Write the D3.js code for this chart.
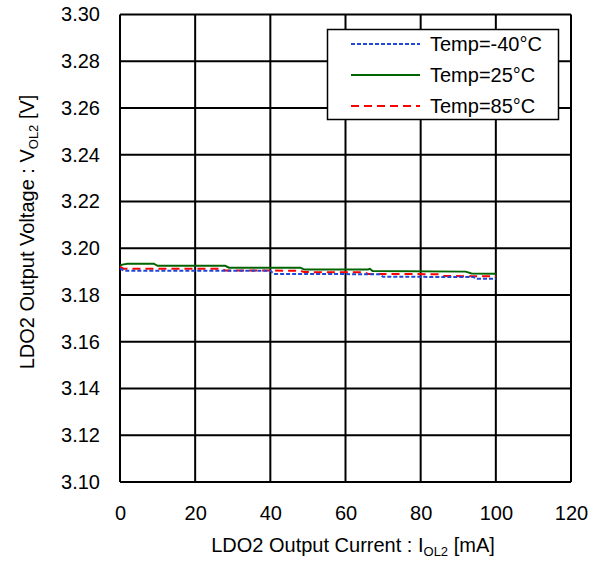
<!DOCTYPE html>
<html><head><meta charset="utf-8">
<script src="https://cdn.jsdelivr.net/npm/d3@7"></script>
<style>body{margin:0;background:#fff}svg{display:block}text{font-family:"Liberation Sans",Arial,sans-serif;fill:#000}</style>
</head><body><svg id="c" width="608" height="566"></svg>
<script>
const xTicks = [0,20,40,60,80,100,120];
const yTicks = [3.10,3.12,3.14,3.16,3.18,3.20,3.22,3.24,3.26,3.28,3.30];
const seriesNames = ["Temp=-40°C","Temp=25°C","Temp=85°C"];
const curM40 = [0,1,40,41,69,70,94,95,100];
const vM40   = [3.1914,3.1904,3.1904,3.1890,3.1889,3.1878,3.1877,3.1870,3.1870];
const cur25  = [0,1,2,9,10,28,29,48,49,66,66.5,67.2,92,93.5,100];
const v25    = [3.1927,3.1931,3.1934,3.1934,3.1925,3.1925,3.1917,3.1917,3.1909,3.1909,3.1912,3.1903,3.1900,3.1892,3.1891];
const cur85  = [0,1,27,28,48,49,65,66,85,86,100];
const v85    = [3.1921,3.1912,3.1912,3.1905,3.1904,3.1898,3.1897,3.1890,3.1889,3.1881,3.1880];

const svg = d3.select("#c");
const L=120,R=571,T=14.5,B=482;
const FS=20, SUB=13;
const x = d3.scaleLinear().domain([0,120]).range([L,R]);
const y = d3.scaleLinear().domain([3.10,3.30]).range([B,T]);

// grid
svg.append("g").selectAll("line").data(xTicks).join("line")
  .attr("x1",d=>x(d)).attr("x2",d=>x(d)).attr("y1",T).attr("y2",B)
  .attr("stroke","#000").attr("stroke-width",2);
svg.append("g").selectAll("line").data(yTicks).join("line")
  .attr("y1",d=>y(d)).attr("y2",d=>y(d)).attr("x1",L).attr("x2",R)
  .attr("stroke","#000").attr("stroke-width",2);

// axes labels via d3 axes
const xa = svg.append("g").attr("transform",`translate(0,${B})`)
  .call(d3.axisBottom(x).tickValues(xTicks).tickSize(0).tickPadding(24).tickFormat(d3.format("d")));
const ya = svg.append("g").attr("transform",`translate(${L},0)`)
  .call(d3.axisLeft(y).tickValues(yTicks).tickSize(0).tickPadding(20).tickFormat(d3.format(".2f")));
[xa,ya].forEach(g=>{g.select(".domain").remove();g.selectAll("text").attr("font-size",FS).attr("font-family","Liberation Sans, Arial, sans-serif").attr("fill","#000");});

// lines
const series = [
  {name:seriesNames[0], c:curM40, v:vM40, color:"#1f48d8", dash:"4,2"},
  {name:seriesNames[1], c:cur25, v:v25, color:"#006400", dash:null},
  {name:seriesNames[2], c:cur85, v:v85, color:"#ff0000", dash:"8,5"}
];
const line = d3.line().x(d=>x(d[0])).y(d=>y(d[1]));
[1,2,0].forEach(i=>{
  const s=series[i];
  svg.append("path").datum(s.c.map((c,k)=>[c,s.v[k]]))
    .attr("d",line).attr("fill","none").attr("stroke",s.color).attr("stroke-width",2)
    .attr("stroke-dasharray",s.dash);
});

// legend
const lg = svg.append("g");
lg.append("rect").attr("x",327.5).attr("y",29.5).attr("width",231).attr("height",90)
  .attr("fill","#fff").attr("stroke","#000").attr("stroke-width",1.5);
series.forEach((s,i)=>{
  const yy = 44 + i*31;
  lg.append("line").attr("x1",351).attr("x2",420).attr("y1",yy).attr("y2",yy)
    .attr("stroke",s.color).attr("stroke-width",2).attr("stroke-dasharray",s.dash);
  lg.append("text").attr("x",430).attr("y",yy+7).attr("font-size",FS).text(s.name);
});

// axis titles
const xt = svg.append("text").attr("x",353).attr("y",552).attr("text-anchor","middle").attr("font-size",FS);
xt.append("tspan").text("LDO2 Output Current : I");
xt.append("tspan").attr("font-size",SUB).attr("dy",4).text("OL2");
xt.append("tspan").attr("dy",-4).text(" [mA]");
const yt = svg.append("text").attr("transform","translate(34,232) rotate(-90)").attr("text-anchor","middle").attr("font-size",FS);
yt.append("tspan").text("LDO2 Output Voltage : V");
yt.append("tspan").attr("font-size",SUB).attr("dy",4).text("OL2");
yt.append("tspan").attr("dy",-4).text(" [V]");
</script></body></html>
